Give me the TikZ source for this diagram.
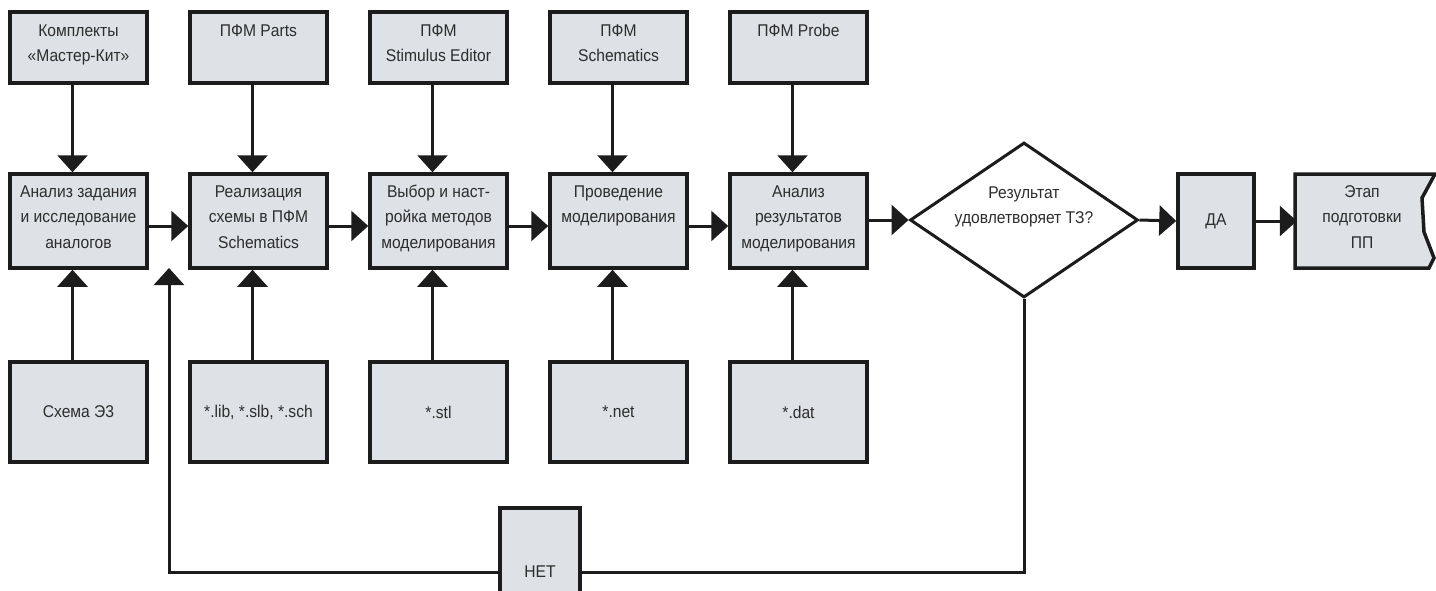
\documentclass[tikz,border=0pt]{standalone}
\usepackage{fontspec}
\setmainfont{Liberation Sans}[FakeStretch=0.92]
\usetikzlibrary{arrows.meta,shapes.geometric}

\definecolor{boxfill}{RGB}{222,225,229}
\definecolor{ink}{RGB}{28,28,28}
\definecolor{txt}{RGB}{45,45,45}

% text block of fixed height, first baseline #3 below the top
\newcommand\tlines[4][137pt]{\parbox[c][#2][t]{#1}{\centering\rule{0pt}{#3}#4}}

\begin{document}
\begin{tikzpicture}[x=1pt,y=-1pt,
  font=\fontsize{17pt}{25.5pt}\selectfont,
  every node/.style={text=txt},
  box/.style={draw=ink, line width=3.5pt, fill=boxfill, inner sep=0pt, minimum width=137pt},
  topbox/.style={box, minimum height=71pt},
  midbox/.style={box, minimum height=94pt},
  botbox/.style={box, minimum height=100pt},
  conn/.style={draw=ink, line width=3pt},
  arr/.style={conn, -{Triangle[length=17pt,width=30pt]}},
]
\useasboundingbox (0,0) rectangle (1436,590);
\clip (0,0) rectangle (1436,590);

% tools (top row)
\node[topbox] (t1) at (78.5,47.5)  {\tlines{71pt}{24pt}{Комплекты\\«Мастер-Кит»}};
\node[topbox] (t2) at (258.5,47.5) {\tlines{71pt}{24pt}{ПФМ Parts}};
\node[topbox] (t3) at (438.5,47.5) {\tlines{71pt}{24pt}{ПФМ\\Stimulus Editor}};
\node[topbox] (t4) at (618.5,47.5) {\tlines{71pt}{24pt}{ПФМ\\Schematics}};
\node[topbox] (t5) at (798.5,47.5) {\tlines{71pt}{24pt}{ПФМ Probe}};

% process steps (middle row)
\node[midbox] (m1) at (78.5,221)  {\tlines{94pt}{23pt}{Анализ задания\\и исследование\\аналогов}};
\node[midbox] (m2) at (258.5,221) {\tlines{94pt}{23pt}{Реализация\\схемы в ПФМ\\Schematics}};
\node[midbox] (m3) at (438.5,221) {\tlines{94pt}{23pt}{Выбор и наст-\\ройка методов\\моделирования}};
\node[midbox] (m4) at (618.5,221) {\tlines{94pt}{23pt}{Проведение\\моделирования}};
\node[midbox] (m5) at (798.5,221) {\tlines{94pt}{23pt}{Анализ\\результатов\\моделирования}};

% data files (bottom row)
\node[botbox] (b1) at (78.5,412)  {Схема Э3};
\node[botbox] (b2) at (258.5,412) {*.lib, *.slb, *.sch};
\node[botbox] (b3) at (438.5,412) {*.stl};
\node[botbox] (b4) at (618.5,412) {*.net};
\node[botbox] (b5) at (798.5,412) {*.dat};

% decision
\node[draw=ink, line width=3pt, diamond, minimum width=228pt, minimum height=155pt, inner sep=0pt] (dec) at (1024,220) {};
\node[align=center] (dectext) at (1024,207) {Результат\\удовлетворяет ТЗ?};

\node[box, minimum width=76pt, minimum height=94pt] (yes) at (1216,221) {ДА};
\node[box, minimum width=80pt, minimum height=128pt] (no) at (540,572) {НЕТ};

% next stage, torn right edge
\filldraw[fill=boxfill, draw=ink, line width=3.5pt, line join=miter]
  (1295,174) -- (1435,174) -- (1422,198) -- (1424,232) -- (1434,258) -- (1429,268) -- (1295,268) -- cycle;
\node[inner sep=0pt] (stage) at (1362,221) {\tlines[130pt]{94pt}{23pt}{Этап\\подготовки\\ПП}};

% tools and files feed the steps
\foreach \i in {1,...,5}{
  \draw[arr] ([xshift=-6pt]t\i.south) -- ([xshift=-6pt]m\i.north);
  \draw[arr] ([xshift=-6pt]b\i.north) -- ([xshift=-6pt]m\i.south);
}

% main flow
\draw[arr] ([yshift=-5pt]m1.east) -- ([yshift=-5pt]m2.west);
\draw[arr] ([yshift=-5pt]m2.east) -- ([yshift=-5pt]m3.west);
\draw[arr] ([yshift=-5pt]m3.east) -- ([yshift=-5pt]m4.west);
\draw[arr] ([yshift=-5pt]m4.east) -- ([yshift=-5pt]m5.west);
\draw[arr] (dec.west -| m5.east) -- (dec.west);
\draw[arr] (dec.east) -- (yes.west);
\draw[arr] (yes.east) -- (stage.west);

% loop back when the result is not accepted
\coordinate (ret) at (169,268);
\draw[conn] (dec.south) |- (no.east);
\draw[arr] (no.west) -| (ret);
\end{tikzpicture}
\end{document}
